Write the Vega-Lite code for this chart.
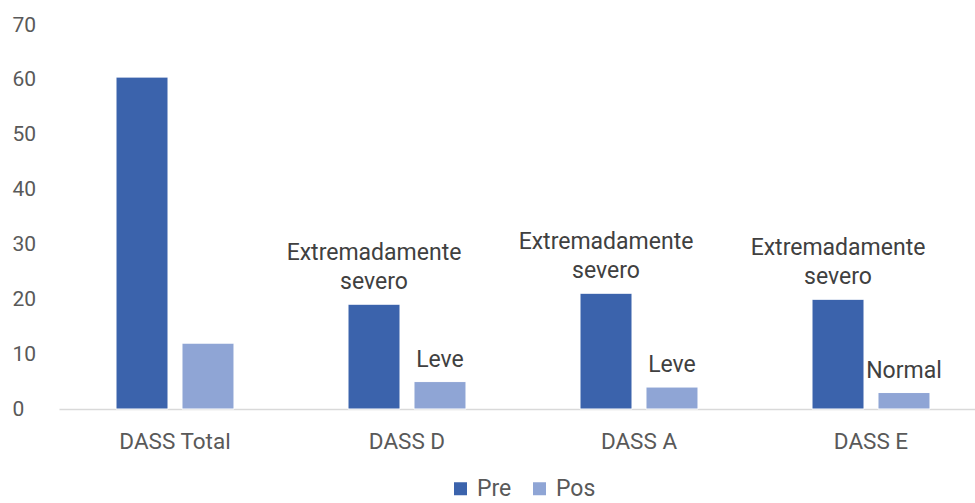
{
  "$schema": "https://vega.github.io/schema/vega-lite/v6.json",
  "autosize": "none",
  "width": 928,
  "height": 384,
  "padding": {"left": 59, "top": 25, "right": 0, "bottom": 94},
  "config": {
    "view": {"stroke": null},
    "font": "Roboto",
    "axis": {"labelFont": "Roboto", "labelColor": "#595959", "labelFontSize": 21, "grid": false, "ticks": false, "domain": false, "title": null},
    "legend": {"labelFont": "Roboto", "labelColor": "#595959", "labelFontSize": 23}
  },
  "data": {
    "values": [
      {"grupo": "DASS Total", "tiempo": "Pre", "valor": 60.5, "linea1": "", "linea2": ""},
      {"grupo": "DASS Total", "tiempo": "Pos", "valor": 12, "linea1": "", "linea2": ""},
      {"grupo": "DASS D", "tiempo": "Pre", "valor": 19.1, "linea1": "Extremadamente", "linea2": "severo"},
      {"grupo": "DASS D", "tiempo": "Pos", "valor": 5, "linea1": "", "linea2": "Leve"},
      {"grupo": "DASS A", "tiempo": "Pre", "valor": 21.1, "linea1": "Extremadamente", "linea2": "severo"},
      {"grupo": "DASS A", "tiempo": "Pos", "valor": 4, "linea1": "", "linea2": "Leve"},
      {"grupo": "DASS E", "tiempo": "Pre", "valor": 20, "linea1": "Extremadamente", "linea2": "severo"},
      {"grupo": "DASS E", "tiempo": "Pos", "valor": 3, "linea1": "", "linea2": "Normal"}
    ]
  },
  "encoding": {
    "x": {
      "field": "grupo", "type": "nominal", "sort": ["DASS Total", "DASS D", "DASS A", "DASS E"],
      "scale": {"paddingInner": 0, "paddingOuter": 0},
      "axis": {"labelAngle": 0, "labelPadding": 21, "labelFontSize": 22.5, "domain": true, "domainColor": "#D9D9D9", "domainWidth": 1.5}
    },
    "xOffset": {"field": "tiempo", "type": "nominal", "sort": ["Pre", "Pos"], "scale": {"paddingInner": 0.212, "paddingOuter": 0.864}},
    "y": {
      "field": "valor", "type": "quantitative",
      "scale": {"domain": [0, 70]},
      "axis": {"values": [0, 10, 20, 30, 40, 50, 60, 70], "labelAlign": "left", "labelPadding": 47}
    }
  },
  "layer": [
    {
      "mark": {"type": "bar", "stroke": "#ffffff", "strokeWidth": 1},
      "encoding": {
        "color": {
          "field": "tiempo", "type": "nominal", "sort": ["Pre", "Pos"],
          "scale": {"domain": ["Pre", "Pos"], "range": ["#3B63AC", "#8FA5D5"]},
          "legend": {"orient": "none", "legendX": 390, "legendY": 452, "direction": "horizontal", "title": null, "symbolType": "square", "symbolSize": 169, "symbolStrokeWidth": 0, "labelOffset": 5, "columnPadding": 16}
        }
      }
    },
    {
      "mark": {"type": "text", "baseline": "alphabetic", "dy": -15, "fontSize": 23, "color": "#404040"},
      "encoding": {"text": {"field": "linea2"}}
    },
    {
      "mark": {"type": "text", "baseline": "alphabetic", "dy": -44, "fontSize": 23, "color": "#404040"},
      "encoding": {"text": {"field": "linea1"}}
    }
  ]
}
